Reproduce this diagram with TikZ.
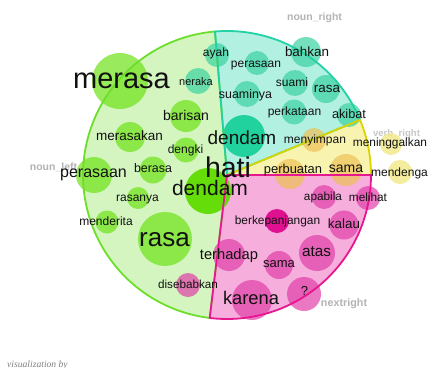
\documentclass[tikz,border=0pt]{standalone}
\usepackage{fontspec}
\setmainfont{Liberation Sans}
\newfontfamily\seriffam{Liberation Serif}
\definecolor{gfill}{HTML}{D4F5C0}
\definecolor{gline}{HTML}{6CDF2A}
\definecolor{tfill}{HTML}{B2F0E2}
\definecolor{tline}{HTML}{22D2A4}
\definecolor{yfill}{HTML}{F8F4B0}
\definecolor{yline}{HTML}{DCD400}
\definecolor{pfill}{HTML}{F6AEDD}
\definecolor{pline}{HTML}{E8168F}
\definecolor{gbase}{HTML}{6EE217}
\definecolor{gbright}{HTML}{5FDC00}
\definecolor{tbase}{HTML}{3BD3A1}
\definecolor{tdark}{HTML}{12CF98}
\definecolor{ybase}{HTML}{EDC155}
\definecolor{ypale}{HTML}{F2EA8C}
\definecolor{pbase}{HTML}{E23FA9}
\definecolor{pdark}{HTML}{DD0088}
\definecolor{txt}{HTML}{111111}
\definecolor{lblgray}{HTML}{B4B4B4}
\definecolor{lblpale}{HTML}{C8C8C8}
\tikzset{
  sectorline/.style={line width=1.8pt, line join=round},
  gbub/.style={fill=gbase, fill opacity=0.7},
  gbig/.style={fill=gbright, fill opacity=0.95},
  tbub/.style={fill=tbase, fill opacity=0.7},
  tbig/.style={fill=tdark, fill opacity=0.9},
  ybub/.style={fill=ybase, fill opacity=0.7},
  ylite/.style={fill=ypale, fill opacity=0.85},
  pbub/.style={fill=pbase, fill opacity=0.7},
  pbig/.style={fill=pdark, fill opacity=0.9},
  wtxt/.style={inner sep=0pt, anchor=base, text=txt},
  lbl/.style={inner sep=0pt, anchor=base, text=lblgray},
}
\newcommand{\wordat}[5]{\node[wtxt, font=\fontsize{#4}{#4}\selectfont] (#1) at (#2,{#3+0.3*#4}) {#5};}
\newcommand{\bub}[4]{\fill[#1] (#2,#3) circle[radius=#4pt];}
\newcommand{\sect}[2]{(227,175) -- plot[domain=#1:#2, samples=90] ({227+144*cos(\x)},{175-144*sin(\x)}) -- cycle}
\begin{document}
\begin{tikzpicture}[x=1pt,y=-1pt]
\useasboundingbox (0,0) rectangle (428,367);
\fill[white] (0,0) rectangle (428,367);
% outer labels
\node[lbl, font=\bfseries\fontsize{10.5}{10.5}\selectfont] (l-nr) at (314.5,20.5) {noun\_right};
\node[lbl, font=\bfseries\fontsize{10.5}{10.5}\selectfont] (l-nl) at (53.5,170.5) {noun\_left};
\node[lbl, text=lblpale, font=\bfseries\fontsize{9.6}{9.6}\selectfont] (l-vr) at (396.5,136) {verb\_right};
\node[lbl, font=\bfseries\fontsize{10.8}{10.8}\selectfont] (l-nx) at (344,306.5) {nextright};
\node[inner sep=0pt, anchor=base west, text=gray, font=\seriffam\itshape\fontsize{9.6}{9.6}\selectfont] (l-vis) at (7,367) {visualization by};
% sector fills
\fill[gfill] \sect{94.8}{263.1};
\fill[tfill] \sect{22.5}{94.8};
\fill[yfill] \sect{0}{22.5};
\fill[pfill] \sect{263.1}{360};
% green bubbles
\bub{gbub}{120}{81}{28}
\bub{gbub}{186}{116}{16}
\bub{gbub}{130}{137}{15}
\bub{gbub}{186}{150}{12.5}
\bub{gbub}{153}{170}{13.5}
\bub{gbub}{94}{175}{18}
\bub{gbub}{138}{198}{11}
\bub{gbub}{107}{222}{11.5}
\bub{gbub}{165}{239}{27}
\bub{gbig}{208}{191}{23}
% teal bubbles
\bub{tbub}{217}{55}{12}
\bub{tbub}{198}{81}{13}
\bub{tbub}{306}{52}{15}
\bub{tbub}{257}{63}{12}
\bub{tbub}{295}{83}{13}
\bub{tbub}{326}{89}{14}
\bub{tbub}{247}{94}{13}
\bub{tbub}{294}{112}{12.5}
\bub{tbub}{349}{115}{12}
\bub{tbig}{244}{136}{21}
% yellow bubbles
\bub{ybub}{314}{140}{12}
\bub{ybub}{290}{174}{15}
\bub{ybub}{346}{170}{16}
\bub{ylite}{391}{144}{11}
\bub{ylite}{400}{172}{12}
% pink bubbles
\bub{pbub}{188}{285}{12}
\bub{pbub}{324}{197}{12}
\bub{pbub}{368}{198}{12}
\bub{pbig}{277}{221}{12}
\bub{pbub}{344}{225}{14.5}
\bub{pbub}{229}{255}{16}
\bub{pbub}{279}{265}{14}
\bub{pbub}{317}{253}{18}
\bub{pbub}{304}{294}{17}
\bub{pbub}{252}{300}{20}
% sector borders
\draw[sectorline, gline] \sect{94.8}{263.1};
\draw[sectorline, tline] \sect{22.5}{94.8};
\draw[sectorline, yline] \sect{0}{22.5};
\draw[sectorline, pline] \sect{263.1}{360};
% words
\wordat{w-merasa}{121.5}{80}{29}{merasa}
\wordat{w-neraka}{196}{82}{11}{neraka}
\wordat{w-barisan}{186}{116}{14}{barisan}
\wordat{w-merasakan}{129.5}{136}{13.5}{merasakan}
\wordat{w-dengki}{185.5}{150}{12}{dengki}
\wordat{w-berasa}{153}{169}{12.4}{berasa}
\wordat{w-perasaan1}{93.5}{173}{16}{perasaan}
\wordat{w-rasanya}{137.5}{198}{12}{rasanya}
\wordat{w-menderita}{106}{222}{12}{menderita}
\wordat{w-rasa1}{164.5}{239}{26}{rasa}
\wordat{w-disebabkan}{188}{285}{11.7}{disebabkan}
\wordat{w-dendam1}{210}{189}{21}{dendam}
\wordat{w-hati}{228}{169}{28.5}{hati}
\wordat{w-dendam2}{242}{139}{19}{dendam}
\wordat{w-ayah}{216}{53}{12}{ayah}
\wordat{w-bahkan}{307}{52}{13.4}{bahkan}
\wordat{w-perasaan2}{256}{64}{12}{perasaan}
\wordat{w-suami}{292}{83}{12}{suami}
\wordat{w-rasa2}{327}{88}{13.4}{rasa}
\wordat{w-suaminya}{245.5}{95}{12.4}{suaminya}
\wordat{w-perkataan}{294.5}{112}{12}{perkataan}
\wordat{w-akibat}{349}{115}{12.7}{akibat}
\wordat{w-menyimpan}{315}{140}{12}{menyimpan}
\wordat{w-meninggalkan}{390}{143}{11.9}{meninggalkan}
\wordat{w-perbuatan}{293}{170}{12.9}{perbuatan}
\wordat{w-sama1}{346}{168}{14}{sama}
\wordat{w-mendengar}{401.5}{173}{12}{mendengar}
\wordat{w-apabila}{323}{197}{11.8}{apabila}
\wordat{w-melihat}{368}{198}{11.8}{melihat}
\wordat{w-berkepanjangan}{277.5}{221}{11.9}{berkepanjangan}
\wordat{w-kalau}{344}{224}{13.4}{kalau}
\wordat{w-terhadap}{229}{255}{14.7}{terhadap}
\wordat{w-sama2}{279}{264}{13}{sama}
\wordat{w-atas}{316.5}{252}{15.3}{atas}
\wordat{w-q}{304.5}{292}{13}{?}
\wordat{w-karena}{251}{299}{18.3}{karena}
\end{tikzpicture}
\end{document}
